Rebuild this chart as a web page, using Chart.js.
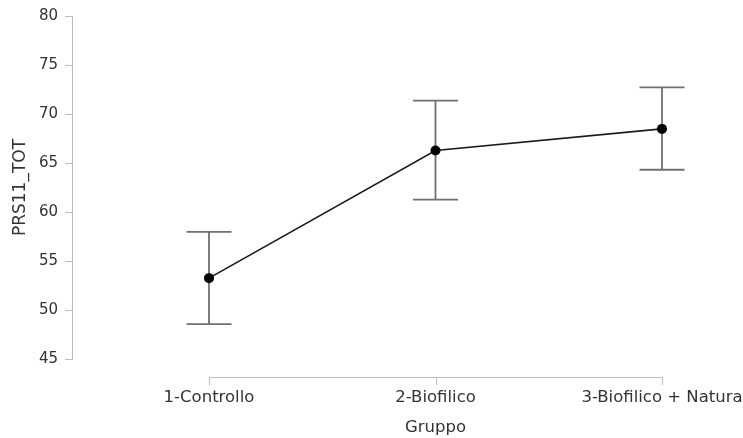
<!DOCTYPE html>
<html>
<head>
<meta charset="utf-8">
<script src="https://cdn.jsdelivr.net/npm/chart.js@4/dist/chart.umd.min.js"></script>
<style>
  html, body { margin: 0; padding: 0; background: #ffffff; }
  #wrap { width: 743px; height: 438px; position: relative; }
</style>
</head>
<body>
<div id="wrap"><canvas id="c" width="743" height="438"></canvas></div>
<script>
// ---- data ----
const categories = ['1-Controllo', '2-Biofilico', '3-Biofilico + Natura'];
const means = [53.25, 66.28, 68.48];
const lower = [48.56, 61.26, 64.31];
const upper = [57.97, 71.36, 72.71];
const yTicks = [45, 50, 55, 60, 65, 70, 75, 80];
const xTitle = 'Gruppo';
const yTitle = 'PRS11_TOT';

const FONT = "'DejaVu Sans', sans-serif";
const TEXT = '#333333';
const AXIS = '#bdbdbd';

const errorBarsAndXAxis = {
  id: 'errorBarsAndXAxis',
  beforeDatasetsDraw(chart) {
    const ctx = chart.ctx;
    const xs = chart.scales.x, ys = chart.scales.y;
    ctx.save();
    ctx.strokeStyle = '#707070';
    ctx.lineWidth = 1.8;
    const cap = 22.5;
    for (let i = 0; i < categories.length; i++) {
      const px = xs.getPixelForValue(i);
      const pt = ys.getPixelForValue(upper[i]);
      const pb = ys.getPixelForValue(lower[i]);
      ctx.beginPath();
      ctx.moveTo(px, pt); ctx.lineTo(px, pb);
      ctx.moveTo(px - cap, pt); ctx.lineTo(px + cap, pt);
      ctx.moveTo(px - cap, pb); ctx.lineTo(px + cap, pb);
      ctx.stroke();
    }
    ctx.restore();
  },
  afterDraw(chart) {
    const ctx = chart.ctx;
    const xs = chart.scales.x;
    const ca = chart.chartArea;
    const x0 = xs.getPixelForValue(0);
    const x1 = xs.getPixelForValue(categories.length - 1);
    const yLine = Math.round(ca.bottom + 18);
    ctx.save();
    ctx.strokeStyle = AXIS;
    ctx.lineWidth = 1;
    ctx.beginPath();
    ctx.moveTo(x0, yLine + 0.5); ctx.lineTo(x1, yLine + 0.5);
    for (let i = 0; i < categories.length; i++) {
      const px = Math.round(xs.getPixelForValue(i)) + 0.5;
      ctx.moveTo(px, yLine); ctx.lineTo(px, yLine + 8);
    }
    ctx.stroke();
    ctx.fillStyle = TEXT;
    ctx.font = '16.5px ' + FONT;
    ctx.textAlign = 'center';
    ctx.textBaseline = 'middle';
    ctx.fillText(xTitle, (x0 + x1) / 2, 428);
    ctx.restore();
  }
};

const pxLeft = 72, pxRight = 720;
const px0 = 209, px2 = 662;
const unit = (px2 - px0) / (categories.length - 1);
const xMin = -(px0 - pxLeft) / unit;
const xMax = (categories.length - 1) + (pxRight - px2) / unit;

new Chart(document.getElementById('c'), {
  type: 'line',
  data: {
    datasets: [{
      data: means.map((v, i) => ({ x: i, y: v })),
      borderColor: '#1a1a1a',
      borderWidth: 1.6,
      pointRadius: 5,
      pointHoverRadius: 5,
      pointBackgroundColor: '#000000',
      pointBorderColor: '#000000',
      pointBorderWidth: 0,
      tension: 0,
      fill: false,
      clip: false
    }]
  },
  options: {
    responsive: false,
    animation: false,
    devicePixelRatio: 1,
    events: [],
    layout: { padding: { top: 15, right: 743 - pxRight, left: 0, bottom: 0 } },
    plugins: { legend: { display: false }, tooltip: { enabled: false }, title: { display: false } },
    scales: {
      x: {
        type: 'linear',
        min: xMin,
        max: xMax,
        afterBuildTicks(scale) { scale.ticks = categories.map((c, i) => ({ value: i })); },
        afterFit(scale) {
          scale.height = 438 - 359;
          scale.paddingLeft = 0;
          scale.paddingRight = 0;
        },
        grid: { display: false, drawTicks: false },
        border: { display: false },
        ticks: {
          autoSkip: false,
          maxRotation: 0,
          minRotation: 0,
          padding: 29,
          color: TEXT,
          font: { family: FONT, size: 16.5 },
          callback: (v) => categories[v] ?? ''
        }
      },
      y: {
        min: 45,
        max: 80,
        afterFit(scale) { scale.width = pxLeft; },
        afterBuildTicks(scale) { scale.ticks = yTicks.map(v => ({ value: v })); },
        grid: { display: true, drawOnChartArea: false, drawTicks: true, tickLength: 7, color: AXIS, lineWidth: 1 },
        border: { display: true, color: AXIS, width: 1 },
        ticks: { padding: 7, color: TEXT, font: { family: FONT, size: 15 } },
        title: { display: true, text: yTitle, color: TEXT, font: { family: FONT, size: 17 }, padding: { top: 10, bottom: 0 } }
      }
    }
  },
  plugins: [errorBarsAndXAxis]
});
</script>
</body>
</html>
